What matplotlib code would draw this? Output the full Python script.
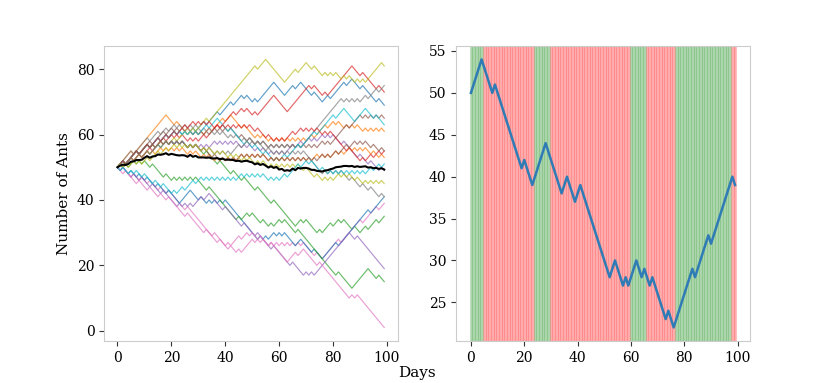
import numpy as np
import matplotlib
matplotlib.use("Agg")
import matplotlib.pyplot as plt
from matplotlib.colors import to_rgba

# ---------------- data ----------------
# Left panel: 20 ant-population walks, given as (day, value) turning/check points
walk_blue_a = [(0, 50), (10, 56), (20, 60), (30, 62), (40, 68), (48, 72), (52, 70), (58, 76), (62, 72), (68, 76), (76, 70), (87, 77), (99, 69)]
walk_orange_a = [(0, 50), (10, 58), (18, 66), (24, 62), (30, 60), (36, 62), (42, 66), (50, 60), (60, 58), (70, 58), (80, 64), (86, 62), (90, 62), (99, 61)]
walk_green_a = [(0, 50), (10, 54), (20, 58), (30, 56), (40, 50), (48, 46), (54, 42), (60, 38), (66, 32), (70, 34), (74, 30), (84, 34), (90, 30), (99, 35)]
walk_red_a = [(0, 50), (10, 54), (20, 60), (30, 58), (40, 64), (46, 68), (52, 66), (58, 72), (63, 67), (71, 75), (78, 72), (87, 81), (99, 73)]
walk_purple_a = [(0, 50), (10, 56), (20, 58), (30, 56), (40, 58), (50, 56), (60, 54), (70, 58), (80, 60), (86, 56), (92, 52), (99, 49)]
walk_brown_a = [(0, 50), (10, 56), (20, 62), (30, 60), (40, 62), (50, 58), (60, 56), (70, 56), (80, 58), (90, 66), (99, 65)]
walk_pink_a = [(0, 50), (10, 46), (20, 42), (30, 34), (40, 26), (46, 24), (50, 28), (60, 26), (70, 26), (76, 22), (88, 32), (99, 39)]
walk_gray_a = [(0, 50), (10, 58), (20, 62), (30, 62), (40, 60), (50, 58), (60, 56), (68, 56), (74, 62), (82, 70), (90, 70), (99, 75)]
walk_olive_a = [(0, 50), (10, 56), (20, 58), (30, 62), (36, 66), (47, 77), (55, 83), (62, 76), (70, 82), (78, 78), (82, 78), (92, 76), (98, 82), (99, 81)]
walk_cyan_a = [(0, 50), (10, 56), (20, 60), (30, 60), (37, 65), (46, 58), (52, 56), (60, 52), (70, 58), (84, 68), (88, 64), (92, 68), (99, 63)]
walk_blue_b = [(0, 50), (12, 46), (20, 42), (23, 39), (27, 43), (33, 39), (41, 39), (52, 28), (62, 30), (66, 26), (68, 28), (76, 22), (99, 41)]
walk_orange_b = [(0, 50), (10, 54), (20, 56), (30, 54), (40, 52), (50, 54), (60, 52), (68, 52), (80, 54), (90, 56), (99, 53)]
walk_green_b = [(0, 50), (10, 52), (20, 46), (30, 46), (36, 42), (44, 34), (50, 36), (56, 32), (62, 34), (70, 28), (76, 22), (87, 13), (93, 19), (99, 15)]
walk_red_b = [(0, 50), (10, 56), (20, 60), (30, 64), (40, 62), (50, 62), (60, 58), (70, 62), (80, 60), (90, 52), (99, 55)]
walk_purple_b = [(0, 50), (10, 46), (18, 42), (22, 38), (28, 38), (34, 42), (44, 34), (54, 28), (60, 24), (68, 18), (73, 17), (86, 30), (90, 28), (99, 19)]
walk_brown_b = [(0, 50), (10, 56), (20, 58), (30, 56), (40, 52), (50, 54), (60, 52), (70, 52), (80, 54), (90, 58), (99, 55)]
walk_pink_b = [(0, 50), (10, 44), (20, 40), (30, 32), (40, 26), (50, 30), (58, 26), (63, 21), (69, 25), (80, 16), (86, 10), (90, 10), (99, 1)]
walk_gray_b = [(0, 50), (10, 54), (20, 58), (30, 56), (40, 54), (50, 58), (60, 54), (70, 54), (75, 49), (84, 48), (92, 44), (99, 41)]
walk_olive_b = [(0, 50), (10, 52), (20, 56), (30, 56), (40, 54), (50, 52), (60, 50), (68, 50), (78, 46), (84, 48), (90, 46), (99, 45)]
walk_cyan_b = [(0, 50), (8, 48), (15, 45), (22, 42), (30, 46), (40, 46), (50, 48), (60, 46), (70, 52), (80, 48), (90, 48), (99, 51)]

# Right panel: single walk turning points (day, value)
single_walk = [(0, 50), (4, 54), (8, 50), (9, 51), (19, 41), (20, 42), (23, 39), (28, 44), (34, 38),
               (36, 40), (39, 37), (41, 39), (52, 28), (54, 30), (57, 27), (58, 28), (59, 27), (62, 30),
               (64, 28), (65, 29), (67, 27), (68, 28), (73, 23), (74, 24), (76, 22), (83, 29), (84, 28),
               (89, 33), (90, 32), (98, 40), (99, 39)]
# Right panel: regime blocks (state, number of days)
regime_states = ["up", "down", "up", "down", "up", "down", "up", "down"]
regime_lengths = [5, 19, 6, 30, 6, 11, 21, 2]

x_ticks = [0, 20, 40, 60, 80, 100]
left_y_ticks = [0, 20, 40, 60, 80]
right_y_ticks = [25, 30, 35, 40, 45, 50, 55]

# ---------------- helpers ----------------
def expand(points):
    """Expand turning points into daily +/-1 steps."""
    vals = [points[0][1]]
    for (d0, v0), (d1, v1) in zip(points[:-1], points[1:]):
        n = d1 - d0
        net = v1 - v0
        ups = (n + net) // 2
        downs = n - ups
        major, minor = (1, -1) if ups >= downs else (-1, 1)
        m = min(ups, downs)
        steps = [major] * n
        for k in range(m):
            pos = int((k + 0.5) * n / m)
            steps[min(pos, n - 1)] = minor
        while steps.count(minor) < m:
            steps[steps.index(major)] = minor
        cur = vals[-1]
        for s in steps:
            cur += s
            vals.append(cur)
    return np.array(vals)

walks = [walk_blue_a, walk_orange_a, walk_green_a, walk_red_a, walk_purple_a,
         walk_brown_a, walk_pink_a, walk_gray_a, walk_olive_a, walk_cyan_a,
         walk_blue_b, walk_orange_b, walk_green_b, walk_red_b, walk_purple_b,
         walk_brown_b, walk_pink_b, walk_gray_b, walk_olive_b, walk_cyan_b]

plt.rcParams['font.family'] = ['DejaVu Serif']
plt.rcParams['font.size'] = 10

fig, (ax1, ax2) = plt.subplots(1, 2, figsize=(8.33, 3.83), dpi=100)

palette = plt.rcParams['axes.prop_cycle'].by_key()['color']
series = [expand(w) for w in walks]
days = np.arange(len(series[0]))
for i, s in enumerate(series):
    ax1.plot(days, s, color=palette[i % 10], lw=0.85, alpha=0.7)
mean = np.mean(series, axis=0)
ax1.plot(days, mean, color='black', lw=1.5)
ax1.set_ylabel('Number of Ants', fontsize=11)
ax1.set_xticks(x_ticks)
ax1.set_yticks(left_y_ticks)

# right panel
single = expand(single_walk)
state_per_day = []
for st, ln in zip(regime_states, regime_lengths):
    state_per_day += [st] * ln
for d, st in enumerate(state_per_day):
    c = 'green' if st == 'up' else 'red'
    ax2.axvspan(d - 0.5, d + 0.5, facecolor=to_rgba(c, 0.33),
                edgecolor=to_rgba(c, 0.12), linewidth=0.6)
ax2.plot(np.arange(len(single)), single, color='#2f7bb5', lw=1.8)
ax2.set_xticks(x_ticks)
ax2.set_yticks(right_y_ticks)

for ax in (ax1, ax2):
    for sp in ax.spines.values():
        sp.set_color('#cccccc')
        sp.set_linewidth(0.8)
    ax.tick_params(length=3.5, width=0.8, color='#333333', labelsize=10)

fig.text(0.5, 0.026, 'Days', ha='center', va='center', fontsize=11)

fig.savefig('out.png', dpi=100)
